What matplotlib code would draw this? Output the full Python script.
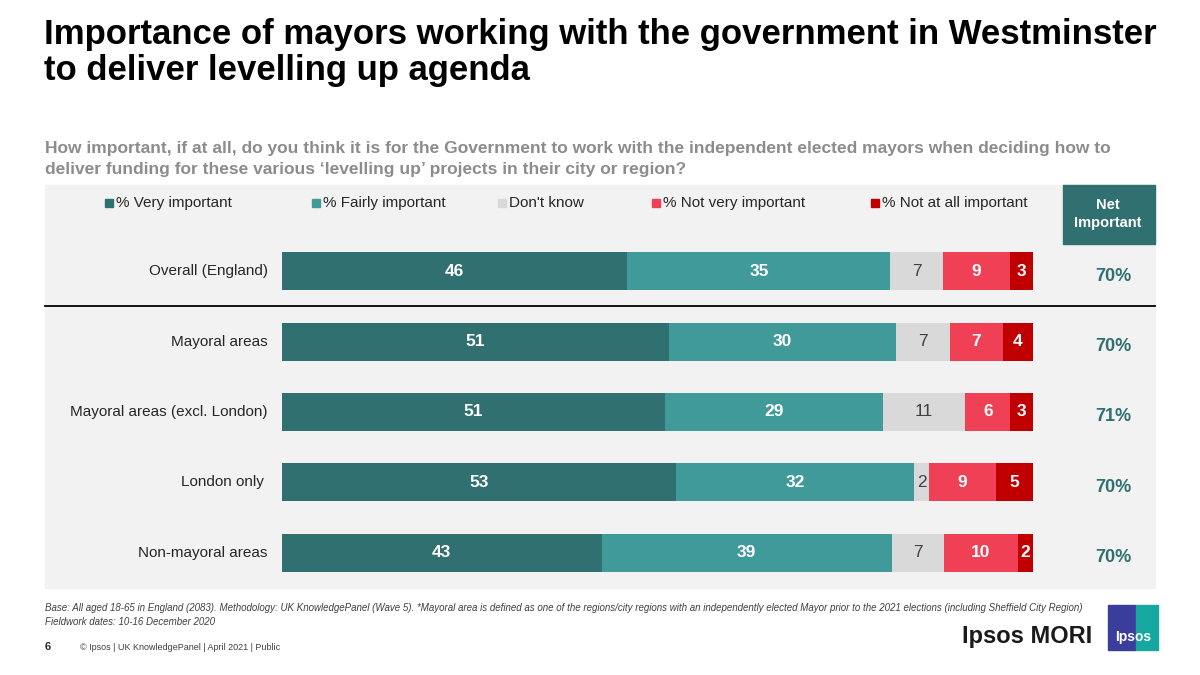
import numpy as np
import matplotlib.pyplot as plt
from matplotlib.patches import Rectangle

plt.rcParams['font.family'] = ['Liberation Sans', 'DejaVu Sans']

categories = ["Overall (England)", "Mayoral areas", "Mayoral areas (excl. London)",
              "London only ", "Non-mayoral areas"]
series = ["% Very important", "% Fairly important", "Don't know",
          "% Not very important", "% Not at all important"]
very = [46, 51, 51, 53, 43]
fairly = [35, 30, 29, 32, 39]
dont_know = [7, 7, 11, 2, 7]
not_very = [9, 7, 6, 9, 10]
not_at_all = [3, 4, 3, 5, 2]
net = ["70%", "70%", "71%", "70%", "70%"]

colors = ["#307070", "#409a9a", "#d9d9d9", "#f04055", "#c00000"]
label_colors = ["white", "white", "#404040", "white", "white"]
teal = "#307070"

W, H = 1200, 675
fig = plt.figure(figsize=(12, 6.75), dpi=100)


def fx(px):
    return px / W


def fy(py):
    return 1 - py / H


# grey panel and header box
fig.patches.append(Rectangle((fx(45), fy(588)), fx(1155 - 45), (588 - 185) / H,
                             transform=fig.transFigure, color="#f2f2f2", zorder=0))
fig.patches.append(Rectangle((fx(1063), fy(244)), fx(1155 - 1063), (244 - 185) / H,
                             transform=fig.transFigure, color=teal, zorder=1))
fig.text(fx(1108), fy(214), "Net\nImportant", color="white", fontsize=10.5,
         fontweight="bold", ha="center", va="center", linespacing=1.3)

# title and question
fig.text(fx(44), fy(18), "Importance of mayors working with the government in Westminster\n"
         "to deliver levelling up agenda", fontsize=25, fontweight="bold",
         ha="left", va="top", linespacing=1.12)
fig.text(fx(45), fy(141), "How important, if at all, do you think it is for the Government to work "
         "with the independent elected mayors when deciding how to\ndeliver funding for these "
         "various \u2018levelling up\u2019 projects in their city or region?",
         fontsize=12.5, fontweight="bold", color="#8c8c8c", ha="left", va="top",
         linespacing=1.5, family="Liberation Sans")

ax = fig.add_axes([fx(282), fy(588), fx(1033 - 282), 352 / H])
ax.set_zorder(3)
ax.set_xlim(0, 100)
ax.set_ylim(4.5, -0.5)
ax.axis("off")

data = np.array([very, fairly, dont_know, not_very, not_at_all], dtype=float)
widths = data / data.sum(axis=0) * 100
y = np.arange(len(categories))
left = np.zeros(len(categories))
for i in range(len(series)):
    ax.barh(y, widths[i], left=left, height=0.54, color=colors[i], edgecolor="none")
    for j in range(len(categories)):
        ax.text(left[j] + widths[i][j] / 2, y[j], str(int(data[i][j])),
                ha="center", va="center", fontsize=12.5,
                fontweight="normal" if i == 2 else "bold", color=label_colors[i])
    left += widths[i]

for j, cat in enumerate(categories):
    ax.text(-1.9, y[j], cat, ha="right", va="center", fontsize=11, color="#262626",
            clip_on=False)
    ax.text(110.7, y[j] + 0.07, net[j], ha="center", va="center", fontsize=13,
            fontweight="bold", color=teal, clip_on=False)

# separator under overall row
fig.add_artist(plt.Line2D([fx(45), fx(1155)], [fy(306), fy(306)], color="black", lw=1.3))

# legend
leg_x = [105, 312, 498, 652, 871]
for i, name in enumerate(series):
    fig.patches.append(Rectangle((fx(leg_x[i]), fy(207)), fx(8), 8 / H,
                                 transform=fig.transFigure, color=colors[i]))
    fig.text(fx(leg_x[i] + 11), fy(203), name, fontsize=11, color="#262626",
             ha="left", va="center")

# footer
fig.text(fx(45), fy(608), "Base: All aged 18-65 in England (2083). Methodology: UK KnowledgePanel "
         "(Wave 5). *Mayoral area is defined as one of the regions/city regions with an "
         "independently elected Mayor prior to the 2021 elections (including Sheffield City Region)",
         fontsize=7, style="italic", color="#404040", ha="left", va="center")
fig.text(fx(45), fy(622), "Fieldwork dates: 10-16 December 2020", fontsize=7, style="italic",
         color="#404040", ha="left", va="center")
fig.text(fx(45), fy(647), "6", fontsize=8, fontweight="bold", color="#262626",
         ha="left", va="center")
fig.text(fx(80), fy(647), "\u00a9 Ipsos | UK KnowledgePanel | April 2021 | Public", fontsize=6.5,
         color="#404040", ha="left", va="center")
fig.text(fx(1092), fy(637), "Ipsos MORI", fontsize=17, fontweight="bold", color="#1a1a1a",
         ha="right", va="center")
fig.patches.append(Rectangle((fx(1108), fy(650)), fx(28), 45 / H,
                             transform=fig.transFigure, color="#3a3d9c"))
fig.patches.append(Rectangle((fx(1136), fy(650)), fx(22), 45 / H,
                             transform=fig.transFigure, color="#16a8a0"))
fig.text(fx(1133), fy(637), "Ipsos", fontsize=10, fontweight="bold", color="white",
         ha="center", va="center")

fig.savefig("out.png", dpi=100)
